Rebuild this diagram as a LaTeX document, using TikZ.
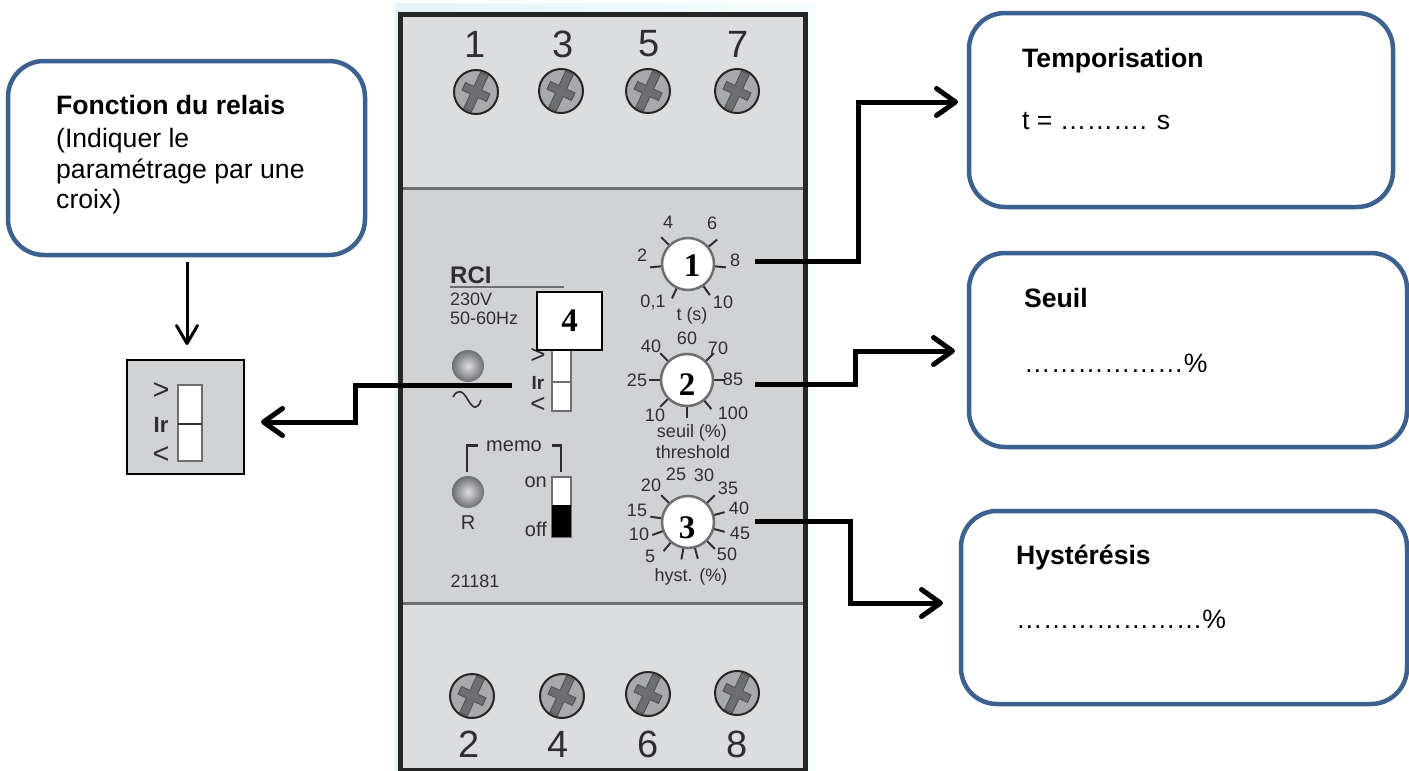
\documentclass[tikz,border=0pt]{standalone}
\usepackage{fontspec}
\setmainfont{Liberation Sans}
\newfontfamily\numfont{Liberation Serif}
\usetikzlibrary{arrows.meta}
\definecolor{BoxBlue}{HTML}{3C618F}
\definecolor{PanelLight}{HTML}{DCDDDF}
\definecolor{PanelDark}{HTML}{D1D2D4}
\definecolor{PrintGray}{HTML}{2E2E30}
\definecolor{ScrewGray}{HTML}{A7A9AC}
\definecolor{CrossGray}{HTML}{6D6E71}
\definecolor{HaloLeft}{HTML}{E4F3F7}
\definecolor{HaloRight}{HTML}{F6FDFE}
\tikzset{
    callout/.style={draw=BoxBlue, line width=4.5pt, fill=white, rounded corners=36pt},
    calloutText/.style={anchor=base west, inner sep=0pt, font=\fontsize{26.6}{31}\selectfont},
    calloutTitle/.style={calloutText, font=\fontsize{26.6}{31}\selectfont\bfseries},
    wire/.style={line width=5pt, miter limit=2, -{Straight Barb[length=19pt,width=27pt,round]}},
    thinwire/.style={line width=3pt, -{Straight Barb[length=18pt,width=21pt,round]}},
    terminal/.style={text=PrintGray, inner sep=0pt, font=\fontsize{38}{38}\selectfont},
    panelText/.style={text=PrintGray, inner sep=0pt, font=\fontsize{18}{18}\selectfont},
    dial/.style={circle, draw=CrossGray, line width=2.5pt, fill=white, minimum size=52pt, inner sep=0pt},
    dialNum/.style={inner sep=0pt, font=\numfont\fontsize{33}{33}\selectfont\bfseries},
    dialtick/.style={PrintGray, line width=2pt},
    led/.style={circle, minimum size=32pt, inner sep=0pt, inner color=ScrewGray!40!white, outer color=CrossGray},
    slot/.style={draw=CrossGray, line width=1.2pt, fill=white},
}
\begin{document}
\begin{tikzpicture}[x=1pt, y=-1pt]
    \useasboundingbox (0,0) rectangle (1409,771);
    % module body
    \shade[left color=HaloLeft, right color=HaloRight] (395,3) rectangle (815,771);
    \fill[PanelLight] (401,16) rectangle (803,770);
    \fill[PanelDark] (401,188) rectangle (803,603);
    \draw[CrossGray, line width=3pt] (401,188) -- (803,188);
    \draw[CrossGray, line width=3pt] (401,603) -- (803,603);
    \draw[black!85, line width=5pt] (400,771) -- (400,14) -- (805,14) -- (805,771);
    \draw[black!85, line width=3pt] (400,769) -- (805,769);

    % screws and terminal numbers
    \foreach \sx/\sy in {476/92, 561/91, 648/91, 737/91, 472/696, 562/696, 648/694, 737/693} {
        \filldraw[fill=ScrewGray, draw=black!85, line width=2pt] (\sx,\sy) circle (22pt);
        \begin{scope}[shift={(\sx,\sy)}, rotate=65]
            \filldraw[fill=CrossGray, draw=black!70, line width=0.8pt] (-20,-4.2) rectangle (20,4.2);
            \filldraw[fill=CrossGray, draw=black!70, line width=0.8pt] (-4.2,-13.5) rectangle (4.2,13.5);
            \fill[CrossGray] (-4.8,-3.8) rectangle (4.8,3.8);
        \end{scope}
    }
    \node[terminal] at (475,44) (TermOne) {1};
    \node[terminal] at (563,44) (TermThree) {3};
    \node[terminal] at (649,44) (TermFive) {5};
    \node[terminal] at (738,44) (TermSeven) {7};
    \node[terminal] at (469,744) (TermTwo) {2};
    \node[terminal] at (558,744) (TermFour) {4};
    \node[terminal] at (648,744) (TermSix) {6};
    \node[terminal] at (737,744) (TermEight) {8};

    % left part of the front panel
    \node[panelText, anchor=west, font=\fontsize{24}{24}\selectfont\bfseries] at (450,275) (Rci) {RCI};
    \draw[CrossGray, line width=1.5pt] (450,287) -- (564,287);
    \node[panelText, anchor=west] at (450,299) (Voltage) {230V};
    \node[panelText, anchor=west] at (450,318) (Frequency) {50-60Hz};
    \node[led] at (468,366) (LedPower) {};
    \draw[PrintGray, line width=1.6pt] (453,397) .. controls (458,388) and (463,391) .. (468,400) .. controls (473,409) and (478,410) .. (481,400);
    \node[led] at (468,492) (LedRelay) {};
    \node[panelText, font=\fontsize{20}{20}\selectfont] at (468,523) (LedRelayText) {R};
    \node[panelText, font=\fontsize{20}{20}\selectfont] at (514,446) (Memo) {memo};
    \draw[PrintGray, line width=2.2pt] (467,472) -- (467,445.5) -- (478,445.5);
    \draw[PrintGray, line width=2.2pt] (552,445.5) -- (561,445.5) -- (561,472);
    \node[panelText, anchor=east, font=\fontsize{20}{20}\selectfont] at (547,482) (MemoOn) {on};
    \node[panelText, anchor=east, font=\fontsize{20}{20}\selectfont] at (547,529) (MemoOff) {off};
    \filldraw[slot] (552,477) rectangle (571,537);
    \fill[black] (552,505) rectangle (571,537);
    \node[panelText] at (475,581) (RefNumber) {21181};

    % range switch
    \filldraw[slot] (552,350) rectangle (571,411);
    \draw[CrossGray, line width=1.2pt] (552,382) -- (571,382);
    \node[panelText, font=\fontsize{26}{26}\selectfont] at (538,356) (SwitchHigh) {>};
    \node[panelText, font=\fontsize{19}{19}\selectfont\bfseries] at (538,383) (SwitchIr) {Ir};
    \node[panelText, font=\fontsize{26}{26}\selectfont] at (538,405) (SwitchLow) {<};
    \node[draw=black, line width=2pt, fill=white, minimum width=65pt, minimum height=58pt, inner sep=0pt, font=\numfont\fontsize{33}{33}\selectfont\bfseries] at (569.5,321) (RangeTag) {4};

    % dial t
    \foreach \ang in {175,115,55,5,225,-40}
        \draw[dialtick] (688,264) ++(\ang:26) -- ++(\ang:12);
    \node[dial] at (688,264) (DialTime) {};
    \node[dialNum] at (692,266) (DialTimeNum) {1};
    \node[panelText] at (642,255) (TimeA) {2};
    \node[panelText] at (668,222) (TimeB) {4};
    \node[panelText] at (712,223) (TimeC) {6};
    \node[panelText] at (735,260) (TimeD) {8};
    \node[panelText] at (653,302) (TimeE) {0,1};
    \node[panelText] at (723,302) (TimeF) {10};
    \node[panelText] at (692,316) (TimeUnit) {t (s)};

    % dial seuil
    \foreach \ang in {180,135,90,50,0,225,-45}
        \draw[dialtick] (687,380) ++(\ang:26) -- ++(\ang:12);
    \node[dial] at (687,380) (DialLevel) {};
    \node[dialNum] at (687,385) (DialLevelNum) {2};
    \node[panelText] at (651,346) (LevelA) {40};
    \node[panelText] at (687,338) (LevelB) {60};
    \node[panelText] at (718,348) (LevelC) {70};
    \node[panelText] at (637,380) (LevelD) {25};
    \node[panelText] at (733,379) (LevelE) {85};
    \node[panelText] at (655,415) (LevelF) {10};
    \node[panelText] at (733,413) (LevelG) {100};
    \node[panelText] at (692,433) (LevelUnit) {seuil (\%)};
    \node[panelText] at (693,452) (LevelEn) {threshold};

    % dial hyst
    \foreach \ang in {225,188,160,130,100,75,45,15,-15,-45}
        \draw[dialtick] (688,522) ++(\ang:26) -- ++(\ang:12);
    \node[dial] at (688,522) (DialHyst) {};
    \node[dialNum] at (687,528) (DialHystNum) {3};
    \node[panelText] at (676,474) (HystA) {25};
    \node[panelText] at (704,475) (HystB) {30};
    \node[panelText] at (651,485) (HystC) {20};
    \node[panelText] at (728,488) (HystD) {35};
    \node[panelText] at (637,510) (HystE) {15};
    \node[panelText] at (739,508) (HystF) {40};
    \node[panelText] at (639,534) (HystG) {10};
    \node[panelText] at (740,533) (HystH) {45};
    \node[panelText] at (650,556) (HystI) {5};
    \node[panelText] at (727,554) (HystJ) {50};
    \node[panelText] at (691,577) (HystUnit) {hyst. (\%)};

    % callouts
    \draw[callout] (8,61) rectangle (365,255);
    \draw[callout] (969,13) rectangle (1393,207);
    \draw[callout] (969,253) rectangle (1407,447);
    \draw[callout] (961,511) rectangle (1407,704);
    \node[calloutTitle] at (56,114) (RelayTitle) {Fonction du relais};
    \node[calloutText] at (56,147) (RelayLineA) {(Indiquer le};
    \node[calloutText] at (56,178) (RelayLineB) {paramétrage par une};
    \node[calloutText] at (56,208) (RelayLineC) {croix)};
    \node[calloutTitle] at (1022,67) (TempoTitle) {Temporisation};
    \node[calloutText] at (1022,129) (TempoValue) {t = ………. s};
    \node[calloutTitle] at (1024,307) (SeuilTitle) {Seuil};
    \node[calloutText] at (1024,372) (SeuilValue) {………………\%};
    \node[calloutTitle] at (1016,564) (HystTitle) {Hystérésis};
    \node[calloutText] at (1016,628) (HystValue) {…………………\%};

    % enlarged switch
    \filldraw[draw=black, line width=2pt, fill=PanelDark] (127,360) rectangle (244,474);
    \filldraw[slot] (178,385) rectangle (202,461);
    \draw[PrintGray, line width=1.2pt] (178,424) -- (202,424);
    \node[panelText, font=\fontsize{29}{29}\selectfont] at (161,391) (ZoomHigh) {>};
    \node[panelText, font=\fontsize{22}{22}\selectfont\bfseries] at (161,425) (ZoomIr) {Ir};
    \node[panelText, font=\fontsize{29}{29}\selectfont] at (161,455) (ZoomLow) {<};

    % connectors
    \coordinate (TempoStart) at (755,261);
    \coordinate (TempoBendA) at (858,261);
    \coordinate (TempoBendB) at (858,102);
    \coordinate (TempoEnd) at (958,102);
    \draw[wire] (TempoStart) -- (TempoBendA) -- (TempoBendB) -- (TempoEnd);
    \coordinate (SeuilStart) at (755,384);
    \coordinate (SeuilBendA) at (855,384);
    \coordinate (SeuilBendB) at (855,351);
    \coordinate (SeuilEnd) at (955,351);
    \draw[wire] (SeuilStart) -- (SeuilBendA) -- (SeuilBendB) -- (SeuilEnd);
    \coordinate (HystStart) at (755,521);
    \coordinate (HystBendA) at (850,521);
    \coordinate (HystBendB) at (850,603);
    \coordinate (HystEnd) at (943,603);
    \draw[wire] (HystStart) -- (HystBendA) -- (HystBendB) -- (HystEnd);
    \coordinate (SwitchStart) at (512,385);
    \coordinate (SwitchBendA) at (355,385);
    \coordinate (SwitchBendB) at (355,422);
    \coordinate (SwitchEnd) at (261,422);
    \draw[wire] (SwitchStart) -- (SwitchBendA) -- (SwitchBendB) -- (SwitchEnd);
    \coordinate (RelayStart) at (187,262);
    \coordinate (RelayEnd) at (187,345);
    \draw[thinwire] (RelayStart) -- (RelayEnd);
\end{tikzpicture}
\end{document}
